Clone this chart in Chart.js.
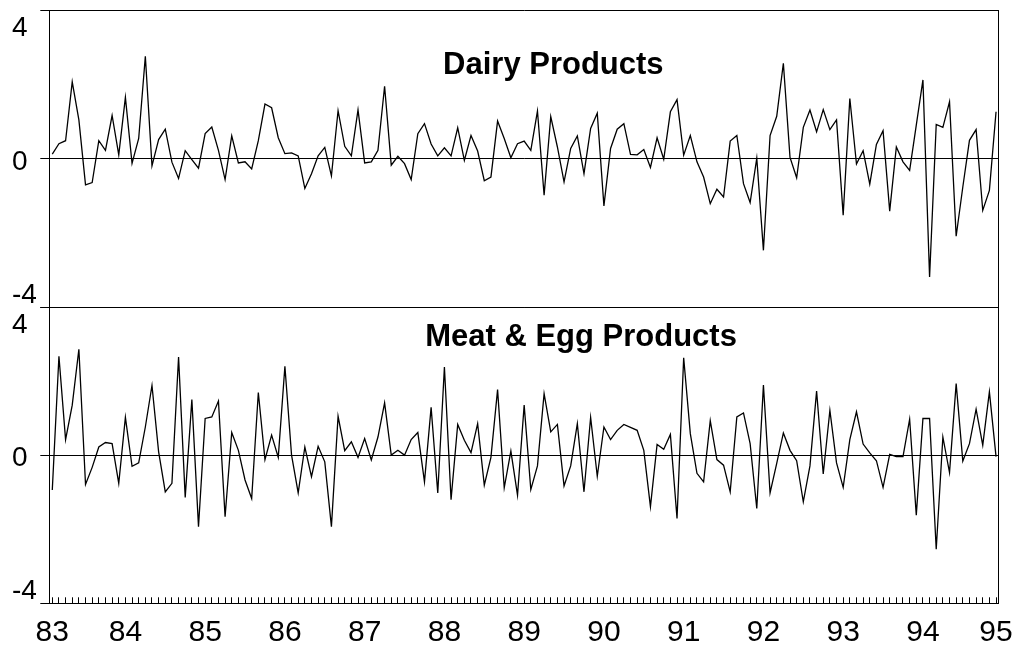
<!DOCTYPE html>
<html>
<head>
  <title>Dairy and Meat & Egg Products</title>
  <script src="https://cdn.jsdelivr.net/npm/chart.js"></script>
  <style>
    body { margin: 0; background: #fff; }
  </style>
</head>
<body>
  <canvas id="myChart" width="1019" height="650"></canvas>

  <script>
    // Monthly series, Feb 1983 .. Dec 1994 (143 months)
    const dairy = [
      0.13, 0.41, 0.49, 2.08, 1.05, -0.70, -0.64, 0.49, 0.23, 1.17,
      0.11, 1.66, -0.12, 0.55, 2.77, -0.19, 0.52, 0.80, -0.09, -0.53,
      0.22, -0.02, -0.25, 0.68, 0.86, 0.23, -0.56, 0.62, -0.11, -0.08,
      -0.27, 0.49, 1.48, 1.38, 0.57, 0.14, 0.16, 0.08, -0.80, -0.40,
      0.08, 0.31, -0.46, 1.30, 0.34, 0.08, 1.32, -0.11, -0.08, 0.23,
      1.96, -0.17, 0.07, -0.13, -0.56, 0.68, 0.95, 0.40, 0.08, 0.30,
      0.08, 0.84, -0.04, 0.63, 0.21, -0.59, -0.49, 1.02, 0.55, 0.03,
      0.41, 0.48, 0.23, 1.29, -0.98, 1.14, 0.32, -0.62, 0.28, 0.62,
      -0.40, 0.82, 1.23, -1.27, 0.28, 0.80, 0.95, 0.12, 0.11, 0.25,
      -0.23, 0.57, -0.01, 1.27, 1.60, 0.10, 0.63, -0.08, -0.49, -1.21,
      -0.82, -1.03, 0.48, 0.63, -0.67, -1.18, 0.02, -2.47, 0.63, 1.15,
      2.58, 0.04, -0.51, 0.85, 1.32, 0.73, 1.33, 0.79, 1.05, -1.52,
      1.63, -0.14, 0.22, -0.68, 0.39, 0.76, -1.41, 0.32, -0.08, -0.31,
      0.91, 2.13, -3.19, 0.93, 0.85, 1.54, -2.09, -0.76, 0.50, 0.79,
      -1.39, -0.85, 1.27
    ];

    const meatEgg = [
      -0.94, 2.67, 0.42, 1.35, 2.86, -0.79, -0.33, 0.22, 0.34, 0.31,
      -0.76, 1.02, -0.30, -0.21, 0.76, 1.88, 0.09, -0.99, -0.76, 2.65,
      -1.14, 1.50, -1.93, 0.99, 1.03, 1.46, -1.66, 0.61, 0.13, -0.67,
      -1.17, 1.69, -0.12, 0.54, -0.06, 2.40, 0.00, -1.02, 0.22, -0.58,
      0.24, -0.18, -1.93, 1.05, 0.12, 0.36, -0.06, 0.45, -0.13, 0.49,
      1.41, 0.00, 0.13, 0.00, 0.42, 0.61, -0.72, 1.29, -1.02, 2.38,
      -1.20, 0.83, 0.40, 0.07, 0.85, -0.81, -0.06, 1.77, -0.88, 0.11,
      -1.08, 1.35, -0.93, -0.29, 1.66, 0.63, 0.83, -0.83, -0.29, 0.85,
      -0.99, 1.02, -0.57, 0.76, 0.42, 0.67, 0.83, 0.75, 0.67, 0.13,
      -1.39, 0.29, 0.16, 0.56, -1.71, 2.63, 0.58, -0.49, -0.72, 0.93,
      -0.12, -0.27, -0.99, 1.03, 1.14, 0.31, -1.44, 1.89, -1.02, -0.22,
      0.60, 0.13, -0.15, -1.26, -0.29, 1.73, -0.51, 1.21, -0.21, -0.87,
      0.42, 1.17, 0.30, 0.06, -0.15, -0.87, 0.02, -0.04, -0.04, 0.97,
      -1.62, 0.99, 0.99, -2.54, 0.49, -0.47, 1.93, -0.16, 0.31, 1.24,
      0.27, 1.71, -0.04
    ];

    // x tick labels and the month index each one sits on
    const yearLabels = ['83', '84', '85', '86', '87', '88', '89', '90', '91', '92', '93', '94', '95'];
    const yearTickIndex = [0, 11, 23, 35, 47, 59, 71, 83, 95, 107, 119, 131, 142];

    const panelTitles = ['Dairy Products', 'Meat & Egg Products'];

    const FONT = '"Liberation Sans", Arial, sans-serif';
    const months = dairy.map((v, i) => i);

    // keep label overhang from shrinking the plot area
    function noPad(s) {
      s.paddingTop = 0;
      s.paddingBottom = 0;
      s.paddingLeft = 0;
      s.paddingRight = 0;
    }

    // y labels: ends of each panel are pushed inward, like the original
    function yLabel(value) {
      if (value === 4) return ['', '4'];
      if (value === -4) return ['-4', ''];
      if (value === 0) return '0';
      return '';
    }

    function yAxis(weight) {
      return {
        type: 'linear',
        position: 'left',
        stack: 'panels',
        stackWeight: weight,
        min: -4,
        max: 4,
        afterFit: s => { s.width = 37.3; noPad(s); },
        ticks: {
          stepSize: 2,
          crossAlign: 'far',
          labelOffset: 3,
          color: '#000',
          font: { family: FONT, size: 28, lineHeight: '30px' },
          callback: yLabel
        },
        grid: {
          drawTicks: true,
          tickLength: 9,
          lineWidth: 1,
          color: c => (c.tick && Math.abs(c.tick.value) === 2) ? 'rgba(0,0,0,0)' : '#000',
          tickColor: '#000',
          tickBorderDash: c => (c.tick && Math.abs(c.tick.value) === 2) ? [0, 4, 20] : []
        },
        border: { display: true, color: '#000', width: 1 }
      };
    }

    // titles drawn inside each panel, placed through the scales
    const titlePlugin = {
      id: 'panelTitles',
      afterDraw(chart) {
        const { ctx, scales } = chart;
        ctx.save();
        ctx.font = 'bold 31px ' + FONT;
        ctx.fillStyle = '#000';
        ctx.textAlign = 'left';
        ctx.textBaseline = 'alphabetic';
        ctx.fillText(panelTitles[0], scales.x.getPixelForValue(58.8), scales.yTop.getPixelForValue(2.29));
        ctx.fillText(panelTitles[1], scales.x.getPixelForValue(56.1), scales.yBot.getPixelForValue(2.94));
        ctx.restore();
      }
    };

    const ctx = document.getElementById('myChart').getContext('2d');
    const myChart = new Chart(ctx, {
      type: 'line',
      data: {
        datasets: [{
          label: panelTitles[0],
          data: dairy.map((v, i) => ({ x: months[i], y: v })),
          yAxisID: 'yTop',
          borderColor: '#000',
          borderWidth: 1.3,
          pointRadius: 0,
          fill: false,
          tension: 0
        }, {
          label: panelTitles[1],
          data: meatEgg.map((v, i) => ({ x: months[i], y: v })),
          yAxisID: 'yBot',
          borderColor: '#000',
          borderWidth: 1.3,
          pointRadius: 0,
          fill: false,
          tension: 0
        }]
      },
      options: {
        responsive: false,
        animation: false,
        layout: { padding: { left: 12, top: 10.7, right: 0, bottom: 0 } },
        plugins: {
          legend: { display: false },
          tooltip: { enabled: false },
          title: { display: false }
        },
        scales: {
          x: {
            type: 'linear',
            position: 'bottom',
            min: -0.45,
            max: 142.37,
            afterBuildTicks: s => { s.ticks = months.map(m => ({ value: m })); },
            afterFit: s => { s.height = 46.7; noPad(s); },
            ticks: {
              autoSkip: false,
              maxRotation: 0,
              minRotation: 0,
              padding: 17,
              color: '#000',
              font: { family: FONT, size: 30 },
              callback: v => {
                const k = yearTickIndex.indexOf(v);
                return k >= 0 ? yearLabels[k] : '';
              }
            },
            grid: {
              drawOnChartArea: false,
              drawTicks: true,
              tickLength: -6,
              tickColor: '#000',
              tickWidth: 1
            },
            border: { display: true, color: '#000', width: 1 }
          },
          // stacked panels: listed bottom first so Dairy lands on top
          yBot: yAxis(1),
          yTop: yAxis(1),
          yRight: {
            type: 'linear',
            position: 'right',
            afterFit: s => { s.width = 20.5; noPad(s); },
            ticks: { display: false },
            grid: { display: false },
            border: { display: true, color: '#000', width: 1 }
          }
        }
      },
      plugins: [titlePlugin]
    });
  </script>
</body>
</html>
